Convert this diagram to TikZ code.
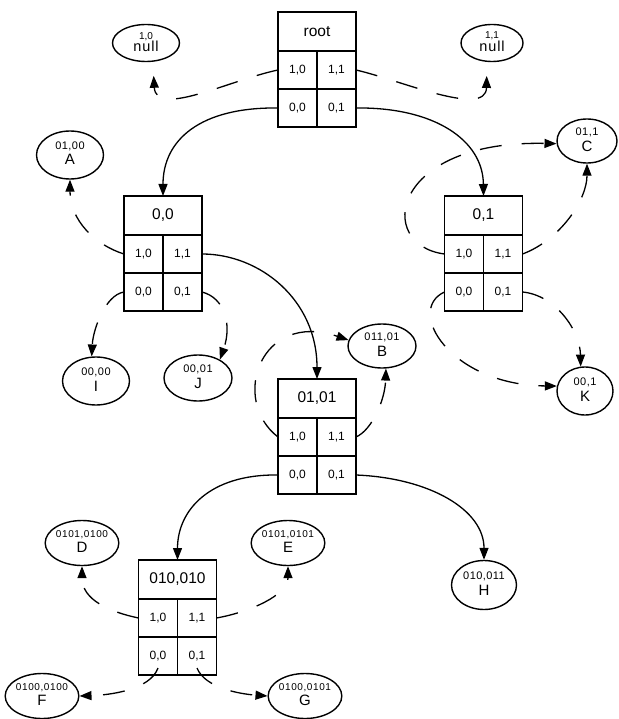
\documentclass[tikz,border=0pt]{standalone}
\usepackage{fontspec}
\setmainfont{Liberation Sans}
\usetikzlibrary{arrows.meta,shapes.geometric}

\newcommand{\mkbox}[4]{%
  \node[hdr]  (#1-h)  at (#2,#3+19.5)      {#4};
  \node[cell] (#1-10) at (#2-19.5,#3+58)   {1,0};
  \node[cell] (#1-11) at (#2+19.5,#3+58)   {1,1};
  \node[cell] (#1-00) at (#2-19.5,#3+96)   {0,0};
  \node[cell] (#1-01) at (#2+19.5,#3+96)   {0,1};
}
\newcommand{\lf}[3][2pt]{\begin{tabular}{@{}c@{}}{\fontsize{11}{11}\selectfont\addfontfeature{LetterSpace=4} #2}\\[#1]{\fontsize{15}{15}\selectfont #3}\end{tabular}}
\newcommand{\lfs}[3][2pt]{\begin{tabular}{@{}c@{}}{\fontsize{10}{10}\selectfont\addfontfeature{LetterSpace=6} #2}\\[#1]{\fontsize{15}{15}\selectfont #3}\end{tabular}}
\newcommand{\lfn}[2]{\begin{tabular}{@{}c@{}}{\fontsize{10}{10}\selectfont #1}\\[-1pt]{\fontsize{14.5}{14.5}\selectfont\addfontfeature{LetterSpace=6} #2}\end{tabular}}

\begin{document}
\begin{tikzpicture}[x=1pt,y=-1pt,
  base/.style={draw, line width=1.5pt, inner sep=0pt, outer sep=0pt},
  hdr/.style={base, minimum width=78pt, minimum height=39pt, font=\fontsize{15.5}{15.5}\selectfont},
  cell/.style={base, minimum width=39pt, minimum height=38pt, font=\fontsize{12}{12}\selectfont},
  leaf/.style 2 args={draw, ellipse, line width=1.4pt, inner sep=0pt,
     minimum width=#1, minimum height=#2, font=\fontsize{8}{9}\selectfont},
  arr/.style={line width=1.3pt, -{Triangle[length=12pt,width=9pt]}},
  dsh/.style={arr, dash pattern=on 22pt off 20pt},
]
\useasboundingbox (0,0) rectangle (618,719);

% boxes
\mkbox{root}{317}{12}{root}
\mkbox{b00}{163}{196}{0,0}
\mkbox{b01}{483.5}{196}{0,1}
\mkbox{b0101}{317}{379}{01,01}
\mkbox{b010}{177.5}{560}{010,010}

% leaves
\node[leaf={67pt}{37pt}] (n10) at (146,43) {\lfn{1,0}{null}};
\node[leaf={62pt}{37pt}] (n11) at (492,43) {\lfn{1,1}{null}};
\node[leaf={67pt}{48pt}] (A) at (70,155) {\lf{01,00}{A}};
\node[leaf={60pt}{44pt}] (C) at (587,141) {\lf{01,1}{C}};
\node[leaf={68pt}{44pt}] (B) at (382,346) {\lf{011,01}{B}};
\node[leaf={67pt}{48pt}] (I) at (96,381) {\lf{00,00}{I}};
\node[leaf={68pt}{46pt}] (J) at (198,378) {\lf{00,01}{J}};
\node[leaf={56pt}{48pt}] (K) at (585,391) {\lf{00,1}{K}};
\node[leaf={65pt}{49pt}] (H) at (484,585) {\lf{010,011}{H}};
\node[leaf={68pt}{45pt}] (D) at (82,543) {\lfs{0101,0100}{D}};
\node[leaf={65pt}{45pt}] (E) at (288,543) {\lfs{0101,0101}{E}};
\node[leaf={67pt}{45pt}] (F) at (42,696) {\lfs{0100,0100}{F}};
\node[leaf={65pt}{45pt}] (G) at (305,696) {\lfs{0100,0101}{G}};

% root connectors
\draw[dsh, shorten >=14pt] (root-10.west) .. controls (230,80) and (156,118) .. (n10.-70);
\draw[dsh, shorten >=14pt] (root-11.east) .. controls (400,80) and (486,118) .. (n11.-105);
\draw[arr] (root-00.west) .. controls (200,107) and (163,140) .. (b00-h.north);
\draw[arr] (root-01.east) .. controls (434,107) and (483,140) .. (b01-h.north);

% box 0,0
\draw[dsh] (b00-10.west) .. controls (95,245) and (70,220) .. (A.south);
\draw[arr] (b00-11.east) .. controls (260,254) and (317,300) .. (b0101-h.north);
\draw[dsh] (b00-00.west) .. controls (105,295) and (93,330) .. (I.100);
\draw[dsh] (b00-01.east) .. controls (225,298) and (232,325) .. (J.40);

% box 0,1
\draw[dsh] (b01-10.west) .. controls (375,245) and (390,140) .. (C.185);
\draw[dsh] (b01-11.east) .. controls (560,240) and (587,200) .. (C.south);
\draw[dsh] (b01-00.west) .. controls (405,310) and (450,385) .. (K.170);
\draw[dsh] (b01-01.east) .. controls (555,295) and (580,330) .. (K.100);

% box 01,01
\draw[dsh] (b0101-10.west) .. controls (230,400) and (260,310) .. (B.170);
\draw[dsh] (b0101-11.east) .. controls (372,430) and (385,400) .. (B.-80);
\draw[arr] (b0101-00.west) .. controls (210,474) and (177.5,510) .. (b010-h.north);
\draw[arr] (b0101-01.east) .. controls (430,478) and (484,510) .. (H.north);

% box 010,010
\draw[dsh] (b010-10.west) .. controls (110,612) and (82,600) .. (D.south);
\draw[dsh] (b010-11.east) .. controls (250,612) and (288,595) .. (E.south);
\draw[dsh] ([yshift=7pt]b010-00.south) .. controls (150,690) and (110,695) .. (F.east);
\draw[dsh] ([yshift=7pt]b010-01.south) .. controls (205,688) and (240,694) .. (G.west);
\end{tikzpicture}
\end{document}
